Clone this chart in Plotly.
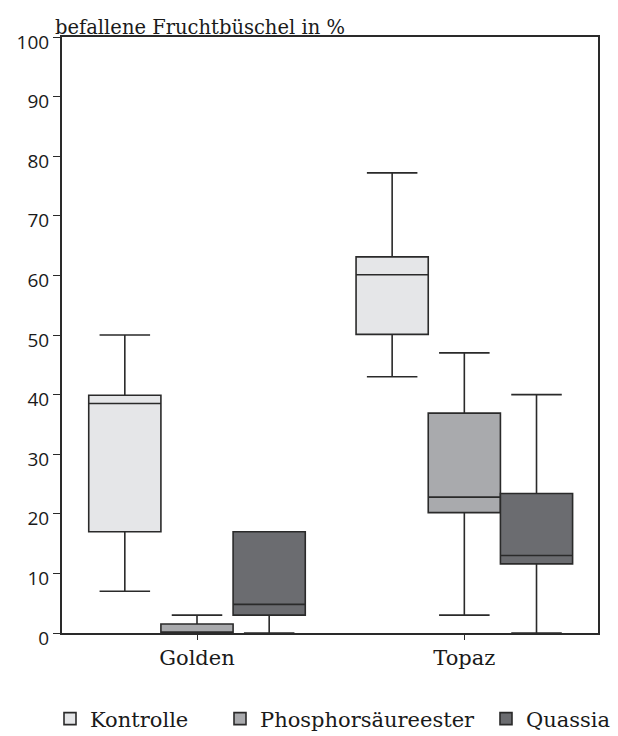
import plotly.graph_objects as go

categories = ["Golden", "Topaz"]
series = ["Kontrolle", "Phosphorsäureester", "Quassia"]
colors = ["#e5e6e8", "#a9aaad", "#6b6c70"]

q1 = {
    "Kontrolle": [17.0, 50.1],
    "Phosphorsäureester": [0.0, 20.2],
    "Quassia": [3.0, 11.6],
}
median = {
    "Kontrolle": [38.5, 60.1],
    "Phosphorsäureester": [0.0, 22.8],
    "Quassia": [4.8, 13.0],
}
q3 = {
    "Kontrolle": [39.9, 63.1],
    "Phosphorsäureester": [1.5, 36.9],
    "Quassia": [17.0, 23.4],
}
lower = {
    "Kontrolle": [7.0, 43.0],
    "Phosphorsäureester": [0.0, 3.0],
    "Quassia": [0.0, 0.0],
}
upper = {
    "Kontrolle": [50.0, 77.2],
    "Phosphorsäureester": [3.0, 47.0],
    "Quassia": [17.0, 40.0],
}
yticks = [0, 10, 20, 30, 40, 50, 60, 70, 80, 90, 100]

W, H = 618, 736
legend_ids = ["legend", "legend2", "legend3"]
legend_text_x = [92, 262, 528]

fig = go.Figure()
for s, c, lid in zip(series, colors, legend_ids):
    fig.add_trace(go.Box(
        x=categories, q1=q1[s], median=median[s], q3=q3[s],
        lowerfence=lower[s], upperfence=upper[s],
        name=s, fillcolor=c, line=dict(color="#2a2a2a", width=1.6),
        whiskerwidth=0.7, boxpoints=False, legend=lid,
    ))

serif = "DejaVu Serif"
txtc = "#1a1a1a"
leg_common = dict(orientation="h", xref="container", yref="container",
                  xanchor="left", yanchor="middle", y=(H - 719) / H,
                  font=dict(family=serif, size=21, color=txtc),
                  bgcolor="rgba(0,0,0,0)", itemwidth=30)
layout_legends = {}
for lid, tx in zip(legend_ids, legend_text_x):
    layout_legends[lid] = dict(leg_common, x=(tx - 42) / W)

fig.update_layout(
    width=W, height=H,
    margin=dict(l=62, r=20, t=37, b=103, autoexpand=False),
    paper_bgcolor="white", plot_bgcolor="white",
    boxmode="group", boxgap=0.19, boxgroupgap=0,
    showlegend=True,
    xaxis=dict(range=[-0.505, 1.5], showline=True, linecolor="#2a2a2a", linewidth=2,
               mirror=True, ticks="outside", ticklen=5, tickcolor="#2a2a2a",
               tickfont=dict(family=serif, size=21, color=txtc), showgrid=False),
    yaxis=dict(range=[0, 100], tickvals=yticks, showline=True, linecolor="#2a2a2a",
               linewidth=2, mirror=True, ticks="outside", ticklen=7, tickcolor="#2a2a2a",
               tickfont=dict(family="Open Sans", size=19, color=txtc), showgrid=False,
               zeroline=False, ticklabelshift=5),
    annotations=[dict(text="befallene Fruchtbüschel in %", xref="paper", yref="paper",
                      x=0, y=1, xanchor="left", yanchor="bottom", showarrow=False,
                      xshift=-9, yshift=-4,
                      font=dict(family=serif, size=19.5, color=txtc))],
    **layout_legends,
)
fig.write_html("out.html", config={"displayModeBar": False},
               post_script="document.body.style.margin='0';document.body.style.padding='0';")
